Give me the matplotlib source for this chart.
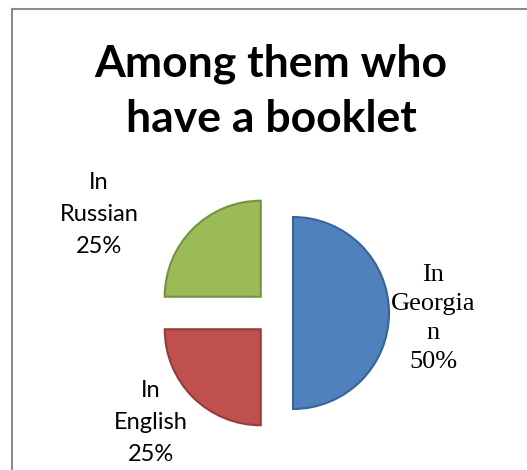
import matplotlib.pyplot as plt
from matplotlib.lines import Line2D

# data
labels = ["In\nGeorgia\nn", "In\nEnglish", "In\nRussian"]
shares = [50, 25, 25]
colors = ["#4F81BD", "#C0504D", "#9BBB59"]
edges = ["#3A6496", "#943C3A", "#76913F"]

fig = plt.figure(figsize=(5.27, 4.70), dpi=100)
ax = fig.add_axes([0, 0, 1, 1])

# pie in pixel-like coordinates (explode is in data units here)
wedges, _ = ax.pie(shares, colors=colors, explode=[16, 23, 23], startangle=90,
                   counterclock=False, center=(277, 157), radius=96,
                   wedgeprops=dict(linewidth=1.5))
for w, ec in zip(wedges, edges):
    w.set_edgecolor(ec)

ax.set_xlim(0, 527)
ax.set_ylim(0, 470)
ax.set_aspect("equal")
ax.axis("off")

# slice labels (va=baseline -> last line's baseline)
pct = [f"{s}%" for s in shares]
ax.text(433, 102, labels[0] + "\n" + pct[0], ha="center", va="baseline",
        family="Liberation Serif", fontsize=19, linespacing=1.42)
ax.text(151, 9, labels[1] + "\n" + pct[1], ha="center", va="baseline",
        family="Lato", fontsize=17, linespacing=1.65)
ax.text(99, 217, labels[2] + "\n" + pct[2], ha="center", va="baseline",
        family="Lato", fontsize=17, linespacing=1.65)

# title
fig.text(271 / 527, 1 - 132 / 470, "Among them who\nhave a booklet", ha="center",
         va="baseline", family="Lato", fontweight="bold", fontsize=32,
         linespacing=1.46)

# open frame (top and left only visible)
fig.add_artist(Line2D([12 / 527, 1], [1 - 9 / 470, 1 - 9 / 470],
                      transform=fig.transFigure, color="#8c8c8c", lw=1.5))
fig.add_artist(Line2D([12 / 527, 12 / 527], [0, 1 - 9 / 470],
                      transform=fig.transFigure, color="#8c8c8c", lw=1.5))

fig.savefig("out.png", dpi=100)
